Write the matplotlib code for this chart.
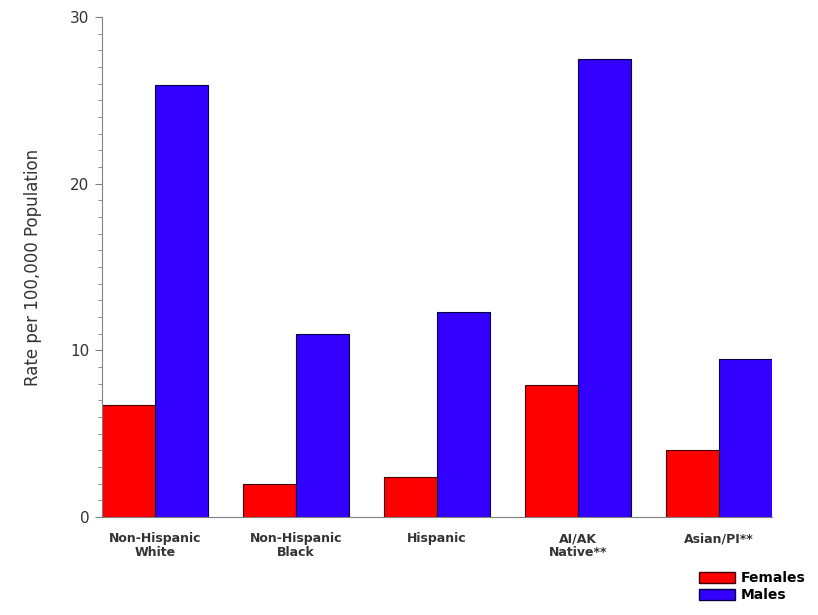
import matplotlib.pyplot as plt
import numpy as np
from matplotlib.patches import Patch
from matplotlib.ticker import MultipleLocator

categories = ["Non-Hispanic\nWhite", "Non-Hispanic\nBlack", "Hispanic", "AI/AK\nNative**", "Asian/PI**"]
females = [6.7, 2.0, 2.4, 7.9, 4.0]
males = [25.9, 11.0, 12.3, 27.5, 9.5]

red = "#ff0000"
blue = "#3300ff"
grey = "#808080"

fig = plt.figure(figsize=(8.18, 6.15), dpi=100)
ax = fig.add_axes([102 / 818, 1 - 517 / 615, 670 / 818, 500 / 615])

x = np.arange(len(categories))
w = 0.375
ax.bar(x - w / 2, females, w, color=red, edgecolor="#400000", linewidth=0.8)
ax.bar(x + w / 2, males, w, color=blue, edgecolor="#000040", linewidth=0.8)

ax.set_xlim(-w, len(categories) - 1 + w)
ax.set_ylim(0, 30)
ax.set_yticks([0, 10, 20, 30])
ax.yaxis.set_minor_locator(MultipleLocator(1))
ax.set_xticks(x)
ax.set_xticklabels(categories, fontsize=9, fontweight="bold", color="#333333", linespacing=1.1)
ax.tick_params(axis="x", length=0, pad=11)
ax.tick_params(axis="y", which="major", length=5, color=grey, labelsize=11, labelcolor="#333333", pad=4)
ax.tick_params(axis="y", which="minor", length=3, color=grey)

for s in ["top", "right"]:
    ax.spines[s].set_visible(False)
for s in ["left", "bottom"]:
    ax.spines[s].set_color(grey)
    ax.spines[s].set_linewidth(0.8)

fig.text(33 / 818, 1 - 267 / 615, "Rate per 100,000 Population", rotation=90,
         ha="center", va="center", fontsize=12, color="#333333")

handles = [Patch(facecolor=red, edgecolor="#400000", label="Females"),
           Patch(facecolor=blue, edgecolor="#000040", label="Males")]
fig.legend(handles=handles, loc="lower right", bbox_to_anchor=(812 / 818, 6 / 615),
           frameon=False, handlelength=2.6, handleheight=0.9,
           labelspacing=0.2, handletextpad=0.4, borderpad=0, prop={"weight": "bold", "size": 10})

fig.savefig("out.png", dpi=100)
